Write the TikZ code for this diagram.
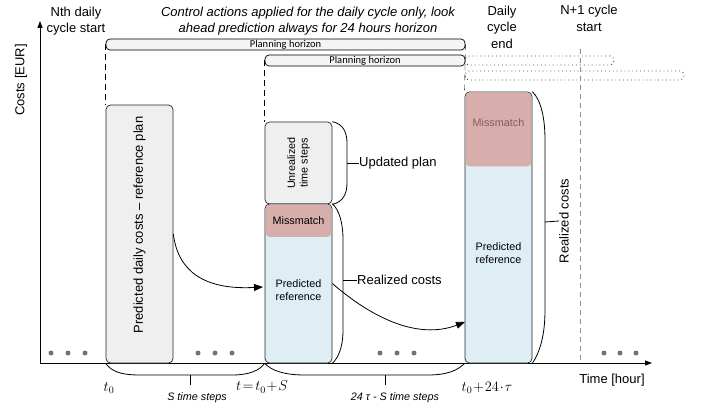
\documentclass[tikz,border=0pt]{standalone}
\usepackage{fontspec}
\setmainfont{Liberation Sans}
\newfontfamily\calfont{Carlito}
\usetikzlibrary{arrows.meta}
\definecolor{boxgray}{HTML}{EFEFEF}
\definecolor{refblue}{HTML}{DEEEF4}
\definecolor{misred}{HTML}{D8AEAC}
\definecolor{mistext}{HTML}{8A5C5C}
\definecolor{horgray}{HTML}{F4F4F4}

\begin{document}
\begin{tikzpicture}[x=1pt,y=-1pt,
	col/.style={draw=black!85,line width=0.7pt,rounded corners=4.5pt,minimum width=67pt,inner sep=0pt},
	mis/.style={fill=misred,rounded corners=4pt,minimum width=65.8pt,inner sep=0pt},
	horizon/.style={draw,line width=0.7pt,rounded corners=4pt,fill=horgray,minimum height=11pt,inner sep=0pt,font=\calfont\fontsize{10.5}{11}\selectfont},
	ext/.style={draw=black!70,line width=0.9pt,dash pattern=on 0.9pt off 3pt,rounded corners=4pt,minimum height=9pt,inner sep=0pt},
	lbl/.style={font=\fontsize{13}{16.5}\selectfont,align=center,inner sep=0pt},
	small/.style={font=\fontsize{10.8}{12.5}\selectfont,align=center,inner sep=0pt},
	tiny/.style={font=\itshape\fontsize{10.8}{12}\selectfont,inner sep=0pt},
	mathlbl/.style={font=\fontsize{14}{16}\selectfont,inner sep=0pt},
	brace/.style={line width=0.8pt},
	dot/.style={circle,fill=black!55,minimum size=5pt,inner sep=0pt},
	tip/.style={-{Triangle[length=9pt,width=7pt]}}
]
	\useasboundingbox (0,0) rectangle (704,409);

	\coordinate (o) at (40,363);
	\coordinate (ytop) at (40,21);
	\coordinate (xend) at (652,363);
	\draw[line width=1pt,-{Triangle[length=7pt,width=5pt]}] (o) -- (ytop);
	\draw[line width=1pt,-{Triangle[length=7pt,width=5pt]}] (o) -- (xend);

	\node[ext,minimum width=149pt] (e2) at (539.5,60.5) {};
	\node[ext,minimum width=219pt] (e3) at (574.5,75.5) {};
	\node[horizon,minimum width=359pt] (h1) at (285.5,44.5) {Planning horizon};
	\node[horizon,minimum width=200pt] (h2) at (365,60.5) {Planning horizon};

	\node[col,fill=boxgray,minimum height=258pt] (g) at (139.5,234) {};
	\node[col,fill=boxgray,minimum height=82pt] (u) at (298.5,163) {};
	\node[col,fill=refblue,minimum height=159pt] (c2) at (298.5,283.5) {};
	\node[mis,minimum height=32pt] (m2) at (298.5,220.8) {};
	\node[col,fill=refblue,minimum height=271pt] (c3) at (498.5,227.5) {};
	\node[mis,minimum height=74pt] (m3) at (498.5,129.3) {};

	\node[rotate=90,font=\fontsize{13}{14}\selectfont,inner sep=0pt] (gt) at (139.5,225) {Predicted daily costs -- reference plan};
	\node[rotate=90,small] (ut) at (u) {Unrealized\\time steps};
	\node[small] (m2t) at (m2) {Missmatch};
	\node[small] (p2) at (298.5,290) {Predicted\\reference};
	\node[small,text=mistext] (m3t) at (498.5,123) {Missmatch};
	\node[small] (p3) at (498.5,253) {Predicted\\reference};

	\coordinate (n1top) at (580,49);
	\coordinate (n1bot) at (580,363);
	\draw[black!45,dashed,dash pattern=on 5pt off 4pt] (n1top) -- (n1bot);
	\draw[dashed,dash pattern=on 6pt off 4pt] (h1.west) -- (g.north west);
	\draw[dashed,dash pattern=on 6pt off 4pt] (h2.west) -- (u.north west);
	\draw[dashed,dash pattern=on 6pt off 4pt] (h1.east) -- (c3.north west);

	\foreach \x in {51,68,85,198,215,232,380,397,414,604,620,636}
		\node[dot] (d\x) at (\x,353) {};

	\node[lbl] (nth) at (76,21) {Nth daily\\cycle start};
	\node[lbl,font=\itshape\fontsize{13}{16.5}\selectfont] (ctrl) at (308,21) {Control actions applied for the daily cycle only, look\\ahead prediction always for 24 hours horizon};
	\node[lbl] (dend) at (502,27) {Daily\\cycle\\end};
	\node[lbl] (next) at (589,18.5) {N+1 cycle\\start};
	\node[lbl,rotate=90] (costs) at (21,80) {Costs [EUR]};
	\node[lbl] (time) at (612,380) {Time [hour]};

	\node[lbl,anchor=west] (up) at (359,163) {Updated plan};
	\node[lbl,anchor=west] (rc2) at (357,280) {Realized costs};
	\node[lbl,rotate=90] (rc3) at (564,221) {Realized costs};

	\coordinate (ub) at (347,163);
	\coordinate (rb2) at (343,280);
	\coordinate (rb3) at (545,222);
	\draw[brace] (u.north east) .. controls (343,124) and (347,132) .. (347,143) -- (347,183) .. controls (347,194) and (343,202) .. (u.south east);
	\draw[brace] (ub) -- (up.west);
	\draw[brace] (c2.north east) .. controls (339,210) and (343,222) .. (343,240) -- (343,330) .. controls (343,348) and (338,358) .. (c2.south east);
	\draw[brace] (rb2) -- (rc2.west);
	\draw[brace] (c3.north east) .. controls (541,100) and (545,118) .. (545,140) -- (545,310) .. controls (545,335) and (540,352) .. (c3.south east);
	\draw[brace] (rb3) -- (rc3.north);

	\coordinate (s1) at (190,375);
	\coordinate (s1b) at (190,385);
	\coordinate (s2) at (385,375);
	\coordinate (s2b) at (385,385);
	\draw[brace] (g.south west) .. controls (112,372) and (122,375) .. (140,375) -- (232,375) .. controls (250,375) and (260,370) .. (c2.south west);
	\draw[brace] (c2.south west) .. controls (272,371) and (285,375) .. (305,375) -- (428,375) .. controls (448,375) and (458,370) .. (c3.south west);
	\draw[brace] (s1) -- (s1b);
	\draw[brace] (s2) -- (s2b);

	\node[mathlbl] (t0) at (109,388) {$t_0$};
	\node[mathlbl] (ts) at (262,387) {$t\!=\!t_0\!+\!S$};
	\node[mathlbl] (te) at (487,388) {$t_0\!+\!24\!\cdot\!\tau$};
	\node[tiny] (sl) at (197,398) {S time steps};
	\node[tiny] (rl) at (395,398) {24 τ - S time steps};

	\coordinate (a2) at (263,287);
	\coordinate (a3) at (465,322);
	\draw[brace,tip] (g.east) .. controls (178,272) and (205,290) .. (a2);
	\draw[brace,tip] (c2.east) .. controls (372,318) and (418,340) .. (a3);
\end{tikzpicture}
\end{document}
